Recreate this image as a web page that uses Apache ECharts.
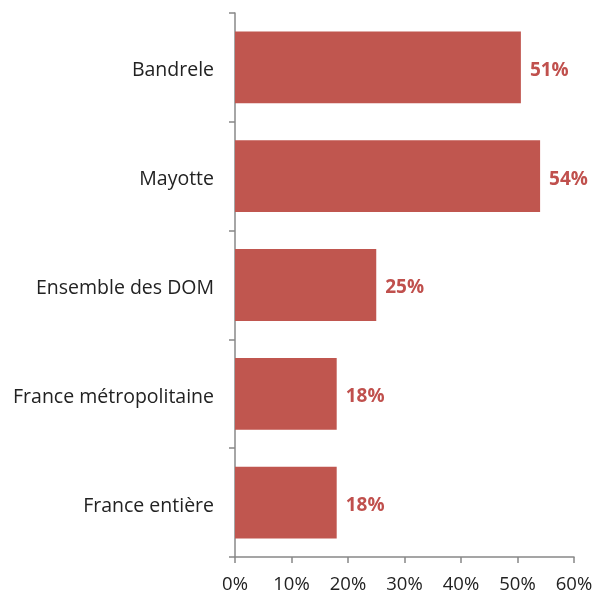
<!DOCTYPE html>
<html>
<head>
<meta charset="utf-8">
<script src="https://cdn.jsdelivr.net/npm/echarts@6/dist/echarts.min.js"></script>
<style>
  html, body { margin: 0; padding: 0; background: #fff; }
  #main { width: 603px; height: 597px; }
</style>
</head>
<body>
<div id="main"></div>
<script>
var categories = ['Bandrele', 'Mayotte', 'Ensemble des DOM', 'France métropolitaine', 'France entière'];
var values = [50.6, 54, 25, 18, 18];
var xTicks = [0, 10, 20, 30, 40, 50, 60];

var chart = echarts.init(document.getElementById('main'));

var option = {
    animation: false,
    textStyle: { fontFamily: 'Open Sans' },
    grid: {
        left: 235,
        right: 29,
        top: 13,
        bottom: 40,
        containLabel: false
    },
    xAxis: {
        type: 'value',
        min: xTicks[0],
        max: xTicks[xTicks.length - 1],
        interval: 10,
        splitLine: { show: false },
        axisLine: { show: true, lineStyle: { color: '#888', width: 1.5 } },
        axisTick: { show: true, length: 6, lineStyle: { color: '#888', width: 1.5 } },
        axisLabel: {
            color: '#222',
            fontSize: 18.5,
            margin: 18,
            formatter: function (v) { return v + '%'; }
        }
    },
    yAxis: {
        type: 'category',
        inverse: true,
        data: categories,
        axisLine: { show: true, lineStyle: { color: '#888', width: 1.5 } },
        axisTick: { show: true, length: 6, lineStyle: { color: '#888', width: 1.5 } },
        axisLabel: {
            margin: 21,
            formatter: function (v) { return '{a|' + v + '}'; },
            rich: {
                a: { color: '#222', fontSize: 19.5, fontFamily: 'Open Sans', padding: [7, 0, 0, 0] }
            }
        }
    },
    series: [{
        type: 'bar',
        data: values,
        barWidth: '66%',
        itemStyle: { color: '#c0564f' },
        label: {
            show: true,
            position: 'right',
            distance: 9,
            offset: [0, 3],
            color: '#c0504d',
            fontWeight: 'bold',
            fontSize: 19,
            formatter: function (p) { return Math.round(p.value) + '%'; }
        }
    }]
};

chart.setOption(option);
</script>
</body>
</html>
